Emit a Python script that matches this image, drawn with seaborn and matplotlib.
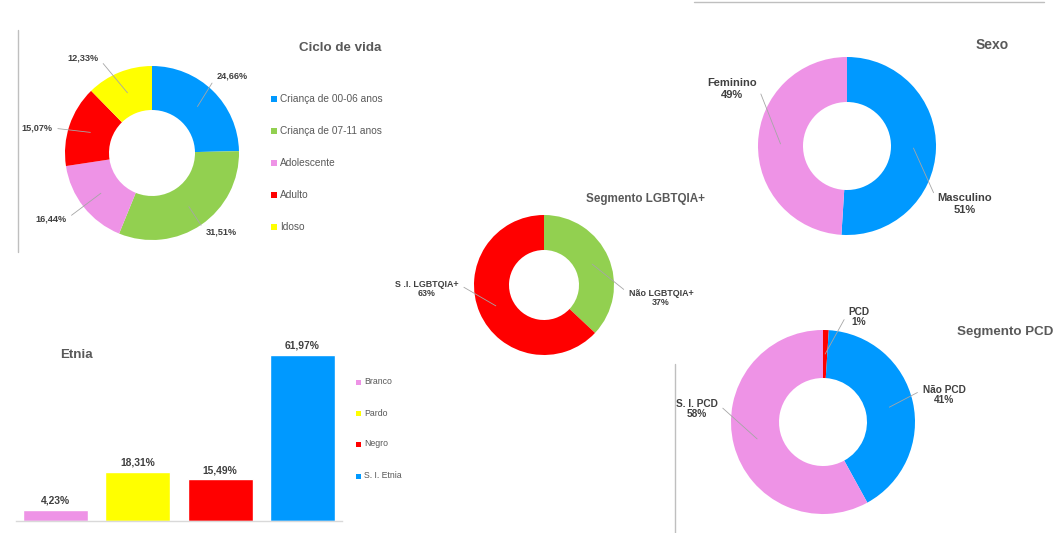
import numpy as np
import pandas as pd
import matplotlib
matplotlib.use("Agg")
import matplotlib.pyplot as plt
import seaborn as sns
from matplotlib.lines import Line2D
from matplotlib.patches import Rectangle

# ---------------- data ----------------
ciclo_labels = ["Criança de 00-06 anos", "Criança de 07-11 anos", "Adolescente", "Adulto", "Idoso"]
ciclo_values = [24.66, 31.51, 16.44, 15.07, 12.33]

lgbt_labels = ["Não LGBTQIA+", "S .I. LGBTQIA+"]
lgbt_values = [37, 63]

sexo_labels = ["Masculino", "Feminino"]
sexo_values = [51, 49]

pcd_labels = ["PCD", "Não PCD", "S. I. PCD"]
pcd_values = [1, 41, 58]

etnia_labels = ["Branco", "Pardo", "Negro", "S. I. Etnia"]
etnia_values = [4.23, 18.31, 15.49, 61.97]

# ---------------- style ----------------
BLUE, GREEN, PINK, RED, YELLOW = "#0099FF", "#92D050", "#EE93E6", "#FF0000", "#FFFF00"
TITLE_C = "#595959"
LABEL_C = "#404040"
LINE_C = "#A6A6A6"

sns.set_style("white")
plt.rcParams["font.family"] = ["Liberation Sans", "DejaVu Sans"]

W, H, DPI = 1059, 533, 100
fig = plt.figure(figsize=(W / DPI, H / DPI), dpi=DPI)
fig.patch.set_facecolor("white")


def fx(x):
    return x / W


def fy(y):
    return 1 - y / H


def pct(v):
    return f"{v:.2f}%".replace(".", ",")


def ftext(x, y, s, size, color=TITLE_C, weight="bold", ha="center", **kw):
    fig.text(fx(x), fy(y), s, fontsize=size, color=color, fontweight=weight,
             ha=ha, va="center", **kw)


def donut(cx, cy, R, r, values, colors, texts, positions, relposes, size, spacing=1.05):
    ax = fig.add_axes([fx(cx - R), fy(cy + R), 2 * R / W, 2 * R / H])
    wedges, _ = ax.pie(values, colors=colors, startangle=90, counterclock=False,
                       radius=1, wedgeprops=dict(width=1 - r / R, linewidth=0))
    ax.set_xlim(-1, 1)
    ax.set_ylim(-1, 1)
    ax.axis("off")
    rmid = (1 + r / R) / 2
    for w, t, (px, py), rp in zip(wedges, texts, positions, relposes):
        th = np.deg2rad((w.theta1 + w.theta2) / 2)
        ax.annotate(t, xy=(rmid * np.cos(th), rmid * np.sin(th)), xycoords="data",
                    xytext=(px, H - py), textcoords="figure pixels",
                    ha="center", va="center", multialignment="center",
                    fontsize=size, fontweight="bold", color=LABEL_C, linespacing=spacing,
                    arrowprops=dict(arrowstyle="-", color=LINE_C, lw=0.6,
                                    shrinkA=1.5, shrinkB=0, relpos=rp))
    return ax


def legend_block(x, ys, labels, colors, size, sq=6):
    for yy, lab, c in zip(ys, labels, colors):
        fig.add_artist(Rectangle((fx(x), fy(yy + sq / 2)), sq / W, sq / H,
                                 transform=fig.transFigure, facecolor=c, edgecolor="none"))
        fig.text(fx(x + sq + 3), fy(yy), lab, fontsize=size, color=TITLE_C,
                 ha="left", va="center")


def gray_line(x0, y0, x1, y1):
    fig.add_artist(Line2D([fx(x0), fx(x1)], [fy(y0), fy(y1)], transform=fig.transFigure,
                          color="#BFBFBF", lw=1.0))


# ---------------- frame lines ----------------
gray_line(18, 30, 18, 252)
gray_line(694, 2, 1044, 2)
gray_line(675, 364, 675, 533)

# ---------------- Ciclo de vida ----------------
ciclo_colors = [BLUE, GREEN, PINK, RED, YELLOW]
donut(152, 153, 87, 43, ciclo_values, ciclo_colors,
      [pct(v) for v in ciclo_values],
      [(232, 76), (221, 232), (51, 219), (37, 128), (83, 58)],
      [(0, 0.5), (0, 0.5), (1, 0.5), (1, 0.5), (1, 0.5)], 6.6)
ftext(340, 48, "Ciclo de vida", 9.6)
legend_block(271, [99, 131, 163, 195, 227], ciclo_labels, ciclo_colors, 7.3)

# ---------------- Segmento LGBTQIA+ ----------------
lgbt_text = [f"{l}\n{v}%" for l, v in zip(lgbt_labels, lgbt_values)]
donut(544, 285, 70, 35, lgbt_values, [GREEN, RED], lgbt_text,
      [(661, 298), (427, 289)], [(0, 0.75), (1, 0.75)], 6.4, spacing=1.1)
ftext(645, 199, "Segmento LGBTQIA+", 8.4)

# ---------------- Sexo ----------------
sexo_text = [f"{l}\n{v}%" for l, v in zip(sexo_labels, sexo_values)]
donut(847, 146, 89, 44, sexo_values, [BLUE, PINK], sexo_text,
      [(965, 204), (732, 89)], [(0, 0.6), (1, 0.75)], 8.0, spacing=1.15)
ftext(992, 45, "Sexo", 10)

# ---------------- Segmento PCD ----------------
pcd_text = [f"{l}\n{v}%" for l, v in zip(pcd_labels, pcd_values)]
donut(823, 422, 92, 44, pcd_values, [RED, BLUE, PINK], pcd_text,
      [(859, 317), (944, 395), (697, 409)], [(0, 0.75), (0, 0.75), (1, 0.75)], 7.3,
      spacing=1.08)
ftext(1005, 332, "Segmento PCD", 9.6)

# ---------------- Etnia (bars) ----------------
etnia_colors = [PINK, YELLOW, RED, BLUE]
axb = fig.add_axes([fx(16), fy(521), (342 - 16) / W, (521 - 340) / H])
df = pd.DataFrame({"Etnia": etnia_labels, "pct": etnia_values})
sns.barplot(data=df, x="Etnia", y="pct", hue="Etnia", palette=etnia_colors,
            legend=False, width=0.79, saturation=1, ax=axb)
axb.set_xlim(-0.48, 3.48)
axb.set_ylim(0, 181 / 2.68)
for cont, v in zip(axb.containers, etnia_values):
    axb.bar_label(cont, labels=[pct(v)], padding=3, fontsize=7.4,
                  fontweight="bold", color=LABEL_C)
axb.set_xlabel("")
axb.set_ylabel("")
axb.set_xticks([])
axb.set_yticks([])
for s in ["top", "left", "right"]:
    axb.spines[s].set_visible(False)
axb.spines["bottom"].set_color("#D9D9D9")
axb.spines["bottom"].set_linewidth(1.0)
axb.patch.set_alpha(0)
ftext(76, 355, "Etnia", 9.6)
legend_block(356, [382, 413, 444, 476], etnia_labels, etnia_colors, 6.3, sq=5)

fig.savefig("out.png", dpi=DPI, facecolor="white")
